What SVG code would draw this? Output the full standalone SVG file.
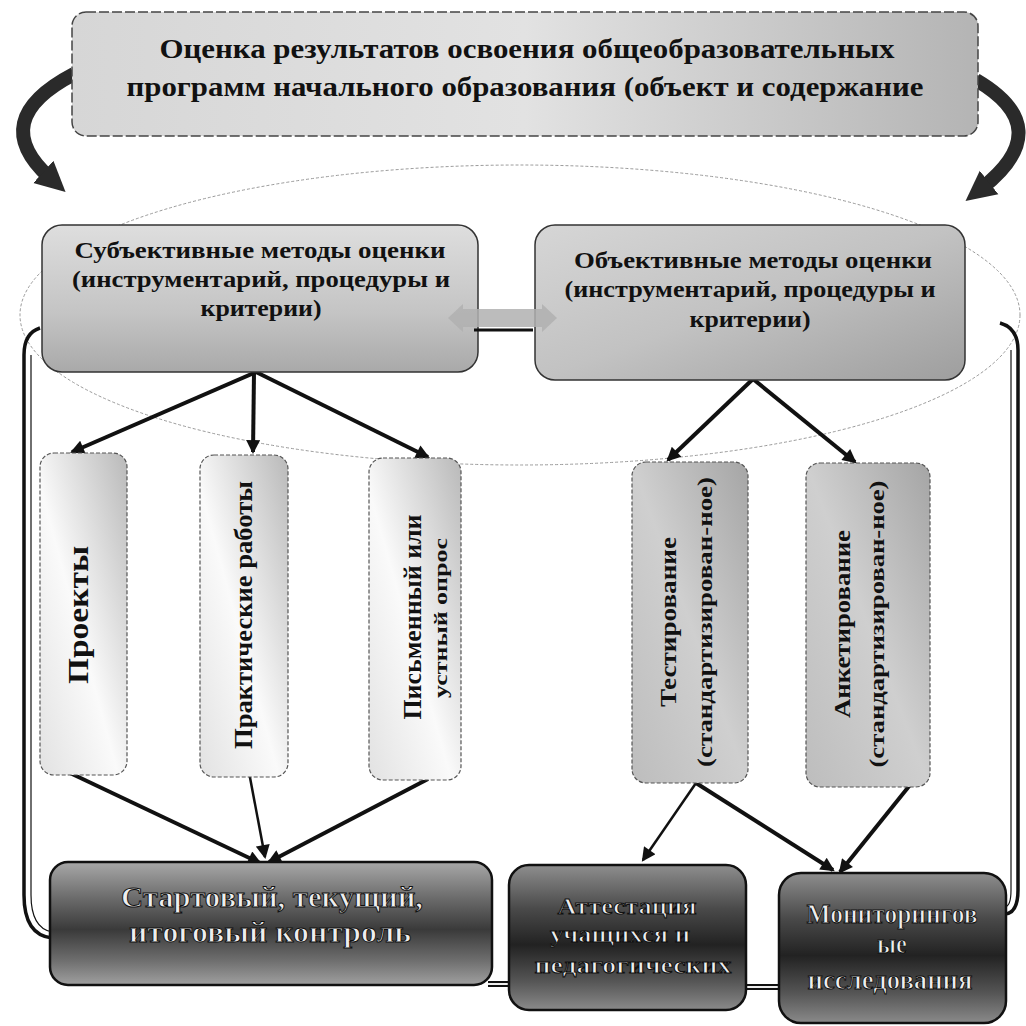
<svg xmlns="http://www.w3.org/2000/svg" width="1026" height="1026" viewBox="0 0 1026 1026">
<style>
  .t { font-family: "Liberation Serif", "DejaVu Serif", serif; font-weight: bold; fill: #111; text-anchor: middle; }
  .tw { font-family: "Liberation Serif", "DejaVu Serif", serif; font-weight: bold; fill: #eeeeee; stroke: #111; stroke-width: 1; text-anchor: middle; }
  .arr { stroke: #111; stroke-width: 4; fill: none; marker-end: url(#ah); }
  .arrThin { stroke: #111; stroke-width: 2.5; fill: none; marker-end: url(#ah); }
  .vbox { stroke: #555; stroke-width: 1.2; stroke-dasharray: 4 2; }
  .mbox { stroke: #333; stroke-width: 1.5; }
  .dbox { stroke: #111; stroke-width: 2.5; }
  .frame { stroke: #111; fill: none; }
</style>
<defs>
  <marker id="ah" viewBox="0 0 10 10" refX="8.5" refY="5" markerUnits="userSpaceOnUse" markerWidth="17" markerHeight="14" orient="auto">
    <path d="M0,0 L10,5 L0,10 z" fill="#111"/>
  </marker>
  <marker id="ahc" viewBox="0 0 10 10" refX="3" refY="5" markerUnits="userSpaceOnUse" markerWidth="30" markerHeight="34" orient="auto">
    <path d="M0,0 L10,5 L0,10 z" fill="#2a2a2a"/>
  </marker>
  <linearGradient id="gTop" x1="0" y1="0" x2="1" y2="0">
    <stop offset="0" stop-color="#d6d6d6"/>
    <stop offset="0.5" stop-color="#e2e2e2"/>
    <stop offset="1" stop-color="#b4b4b4"/>
  </linearGradient>
  <linearGradient id="gSubj" x1="0" y1="0" x2="0" y2="1">
    <stop offset="0" stop-color="#dedede"/>
    <stop offset="0.6" stop-color="#c4c4c4"/>
    <stop offset="1" stop-color="#a9a9a9"/>
  </linearGradient>
  <linearGradient id="gObj" x1="0" y1="0" x2="1" y2="1">
    <stop offset="0" stop-color="#d6d6d6"/>
    <stop offset="0.5" stop-color="#c2c2c2"/>
    <stop offset="1" stop-color="#9e9e9e"/>
  </linearGradient>
  <linearGradient id="gV" x1="0" y1="1" x2="1" y2="0">
    <stop offset="0" stop-color="#e2e2e2"/>
    <stop offset="0.45" stop-color="#fafafa"/>
    <stop offset="1" stop-color="#b9b9b9"/>
  </linearGradient>
  <linearGradient id="gV2" x1="0" y1="1" x2="1" y2="0">
    <stop offset="0" stop-color="#bdbdbd"/>
    <stop offset="0.5" stop-color="#cfcfcf"/>
    <stop offset="1" stop-color="#a5a5a5"/>
  </linearGradient>
  <linearGradient id="gDark" x1="0" y1="0" x2="0" y2="1">
    <stop offset="0" stop-color="#a8a8a8"/>
    <stop offset="0.3" stop-color="#6a6a6a"/>
    <stop offset="0.55" stop-color="#3a3a3a"/>
    <stop offset="0.8" stop-color="#6e6e6e"/>
    <stop offset="1" stop-color="#a0a0a0"/>
  </linearGradient>
  <linearGradient id="gDarker" x1="0" y1="0" x2="0" y2="1">
    <stop offset="0" stop-color="#8e8e8e"/>
    <stop offset="0.3" stop-color="#4a4a4a"/>
    <stop offset="0.55" stop-color="#222"/>
    <stop offset="0.8" stop-color="#555"/>
    <stop offset="1" stop-color="#8a8a8a"/>
  </linearGradient>
</defs>

<rect width="1026" height="1026" fill="#ffffff"/>

<g id="background">
  <ellipse cx="520" cy="315" rx="500" ry="150" fill="#ffffff" stroke="#9a9a9a" stroke-width="1" stroke-dasharray="3 2"/>
  <path class="frame" stroke-width="3.5" d="M 40 328 Q 24 333 24 355 L 24 895 Q 24 935 52 938"/>
  <path class="frame" stroke-width="1.2" d="M 31 355 L 31 895 Q 31 928 52 932"/>
  <path class="frame" stroke-width="3.5" d="M 1000 323 Q 1018 328 1018 350 L 1018 890 Q 1018 913 1005 914"/>
  <path class="frame" stroke-width="1.2" d="M 1011 350 L 1011 890 Q 1011 906 1005 907"/>
</g>

<g id="connectors">
  <path d="M 74 74 Q -14 120 50 178" stroke="#2a2a2a" stroke-width="14" fill="none" marker-end="url(#ahc)"/>
  <path d="M 976 80 Q 1058 128 982 188" stroke="#2a2a2a" stroke-width="14" fill="none" marker-end="url(#ahc)"/>
  <line class="arr" x1="256" y1="372" x2="72" y2="452"/>
  <line class="arr" x1="254" y1="372" x2="253" y2="452"/>
  <line class="arr" x1="256" y1="372" x2="428" y2="457"/>
  <line class="arr" x1="753" y1="379" x2="668" y2="460"/>
  <line class="arr" x1="753" y1="379" x2="855" y2="462"/>
  <line class="arr" x1="70" y1="773" x2="260" y2="863"/>
  <line class="arrThin" x1="248" y1="767" x2="265" y2="857"/>
  <line class="arr" x1="428" y1="779" x2="269" y2="862"/>
  <line class="arrThin" x1="696" y1="783" x2="643" y2="860"/>
  <line class="arr" x1="696" y1="783" x2="833" y2="870"/>
  <line class="arr" x1="910" y1="785" x2="840" y2="872"/>
  <path d="M 488 984 L 512 984 M 743 987 L 782 987" stroke="#111" stroke-width="6" fill="none"/>
  <path d="M 488 984 L 512 984 M 743 987 L 782 987" stroke="#eeeeee" stroke-width="2" fill="none"/>
</g>

<g id="node-top">
  <rect x="72" y="12" width="906" height="124" rx="14" fill="url(#gTop)" stroke="#444" stroke-width="1.5" stroke-dasharray="10 3"/>
  <text class="t" x="527" y="58" font-size="28" textLength="735" lengthAdjust="spacingAndGlyphs">Оценка результатов освоения общеобразовательных</text>
  <text class="t" x="525" y="96" font-size="28" textLength="797" lengthAdjust="spacingAndGlyphs">программ начального образования (объект и содержание</text>
</g>

<g id="node-subj">
  <rect x="42" y="225" width="436" height="147" rx="20" class="mbox" fill="url(#gSubj)"/>
  <text class="t" x="260" y="258" font-size="23" textLength="371" lengthAdjust="spacingAndGlyphs">Субъективные методы оценки</text>
  <text class="t" x="261" y="287" font-size="23" textLength="378" lengthAdjust="spacingAndGlyphs">(инструментарий, процедуры и</text>
  <text class="t" x="261" y="316" font-size="23" textLength="121" lengthAdjust="spacingAndGlyphs">критерии)</text>
</g>

<g id="node-obj">
  <rect x="535" y="225" width="430" height="155" rx="20" class="mbox" fill="url(#gObj)"/>
  <text class="t" x="753" y="268" font-size="23" textLength="358" lengthAdjust="spacingAndGlyphs">Объективные методы оценки</text>
  <text class="t" x="750" y="297" font-size="23" textLength="371" lengthAdjust="spacingAndGlyphs">(инструментарий, процедуры и</text>
  <text class="t" x="750" y="327" font-size="23" textLength="121" lengthAdjust="spacingAndGlyphs">критерии)</text>
</g>

<g id="link-methods">
  <path d="M 448 318 L 463 304 L 463 309 L 542 309 L 542 304 L 557 318 L 542 332 L 542 327 L 463 327 L 463 332 Z" fill="#b0b0b0" opacity="0.85"/>
  <line x1="474" y1="330" x2="533" y2="330" stroke="#111" stroke-width="3"/>
</g>

<g id="node-proj">
  <rect x="40" y="453" width="87" height="322" rx="14" class="vbox" fill="url(#gV)"/>
  <text class="t" transform="translate(88,615) rotate(-90)" font-size="29" textLength="138" lengthAdjust="spacingAndGlyphs">Проекты</text>
</g>

<g id="node-prac">
  <rect x="200" y="455" width="88" height="322" rx="14" class="vbox" fill="url(#gV)"/>
  <text class="t" transform="translate(252,615) rotate(-90)" font-size="25" textLength="268" lengthAdjust="spacingAndGlyphs">Практические работы</text>
</g>

<g id="node-pis">
  <rect x="369" y="458" width="92" height="322" rx="14" class="vbox" fill="url(#gV)"/>
  <text class="t" transform="translate(421,617) rotate(-90)" font-size="25" textLength="205" lengthAdjust="spacingAndGlyphs">Письменный или</text>
  <text class="t" transform="translate(447,618) rotate(-90)" font-size="19" textLength="160" lengthAdjust="spacingAndGlyphs">устный опрос</text>
</g>

<g id="node-test">
  <rect x="632" y="462" width="116" height="321" rx="14" class="vbox" fill="url(#gV2)"/>
  <text class="t" transform="translate(676,622) rotate(-90)" font-size="24" textLength="170" lengthAdjust="spacingAndGlyphs">Тестирование</text>
  <text class="t" transform="translate(712,622) rotate(-90)" font-size="22" textLength="290" lengthAdjust="spacingAndGlyphs">(стандартизирован-ное)</text>
</g>

<g id="node-anket">
  <rect x="806" y="463" width="124" height="324" rx="14" class="vbox" fill="url(#gV2)"/>
  <text class="t" transform="translate(850,624) rotate(-90)" font-size="24" textLength="188" lengthAdjust="spacingAndGlyphs">Анкетирование</text>
  <text class="t" transform="translate(884,624) rotate(-90)" font-size="22" textLength="287" lengthAdjust="spacingAndGlyphs">(стандартизирован-ное)</text>
</g>

<g id="node-start">
  <rect x="50" y="862" width="442" height="123" rx="18" class="dbox" fill="url(#gDark)"/>
  <text class="tw" x="272" y="907" font-size="30" textLength="302" lengthAdjust="spacingAndGlyphs">Стартовый, текущий,</text>
  <text class="tw" x="270" y="942" font-size="30" textLength="282" lengthAdjust="spacingAndGlyphs">итоговый контроль</text>
</g>

<g id="node-attest">
  <rect x="509" y="865" width="237" height="145" rx="20" class="dbox" fill="url(#gDarker)"/>
  <text class="tw" x="627" y="914" font-size="23" textLength="139" lengthAdjust="spacingAndGlyphs">Аттестация</text>
  <text class="tw" x="620" y="942" font-size="23" textLength="140" lengthAdjust="spacingAndGlyphs">учащихся и</text>
  <text class="tw" x="633" y="973" font-size="23" textLength="197" lengthAdjust="spacingAndGlyphs">педагогических</text>
</g>

<g id="node-monitor">
  <rect x="779" y="873" width="227" height="150" rx="22" class="dbox" fill="url(#gDarker)"/>
  <text class="tw" x="892" y="923" font-size="27" textLength="171" lengthAdjust="spacingAndGlyphs">Мониторингов</text>
  <text class="tw" x="892" y="953" font-size="27" textLength="30" lengthAdjust="spacingAndGlyphs">ые</text>
  <text class="tw" x="890" y="989" font-size="27" textLength="165" lengthAdjust="spacingAndGlyphs">исследования</text>
</g>
</svg>
